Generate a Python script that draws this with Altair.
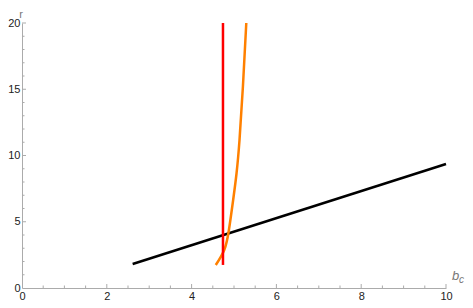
import altair as alt
import numpy as np
import pandas as pd

# ---- data ----
black_b = [2.61, 10.0]
black_r = [1.81, 9.36]

red_b = [4.74, 4.74]
red_r = [1.74, 20.0]

orange_r = [1.74, 2.87, 4.38, 6.64, 8.66, 11.17, 15.19, 20.0]
orange_b = [4.57, 4.77, 4.88, 4.98, 5.06, 5.13, 5.21, 5.29]

x_labels = [0, 2, 4, 6, 8, 10]
y_labels = [0, 5, 10, 15, 20]
x_major_ticks = [2, 4, 6, 8, 10]
x_minor_ticks = [v for v in np.arange(0.5, 10, 0.5).tolist() if v % 2 != 0]
y_major_ticks = [5, 10, 15, 20]
y_minor_ticks = [v for v in range(1, 20) if v % 5 != 0]

W, H = 424, 265
AX = "#ababab"

xscale = alt.Scale(domain=[0, 10], nice=False, zero=False)
yscale = alt.Scale(domain=[0, 20], nice=False, zero=False)

xaxis = alt.Axis(values=x_labels, title=None, grid=False, ticks=False, tickSize=0,
                 domainColor=AX, domainWidth=1, labelColor="#222",
                 labelFont="Liberation Sans", labelFontSize=11, labelPadding=2,
                 labelFlush=False, labelOverlap=False)
yaxis = alt.Axis(values=y_labels, title=None, grid=False, ticks=False, tickSize=0,
                 domainColor=AX, domainWidth=1, labelColor="#222",
                 labelFont="Liberation Sans", labelFontSize=11, labelPadding=2,
                 labelFlush=False, labelOverlap=False)

X = lambda f: alt.X(f, type="quantitative", scale=xscale, axis=xaxis)
Y = lambda f: alt.Y(f, type="quantitative", scale=yscale, axis=yaxis)

black_df = pd.DataFrame({"b": black_b, "r": black_r})
red_df = pd.DataFrame({"b": red_b, "r": red_r})
orange_df = pd.DataFrame({"b": orange_b, "r": orange_r})

black = alt.Chart(black_df).mark_line(color="#000000", strokeWidth=2.5).encode(
    x=X("b"), y=Y("r"), order="r:Q")
orange = alt.Chart(orange_df).mark_line(color="#FF8000", strokeWidth=2.5,
                                        interpolate="natural").encode(
    x=X("b"), y=Y("r"), order="r:Q")
red = alt.Chart(red_df).mark_line(color="#FF0000", strokeWidth=2.5).encode(
    x=X("b"), y=Y("r"), order="r:Q")

def xticks(vals, length):
    return alt.Chart(pd.DataFrame({"v": vals})).mark_rule(color=AX, strokeWidth=1).encode(
        x=X("v"), y=alt.value(H), y2=alt.value(H - length))

def yticks(vals, length):
    return alt.Chart(pd.DataFrame({"v": vals})).mark_rule(color=AX, strokeWidth=1).encode(
        y=Y("v"), x=alt.value(0), x2=alt.value(length))

r_title = alt.Chart(pd.DataFrame({"t": ["r"]})).mark_text(
    font="Liberation Sans", fontSize=11, color="#777", align="center",
    baseline="top").encode(text="t:N", x=alt.value(-1), y=alt.value(-14))
b_title = alt.Chart(pd.DataFrame({"t": ["b"]})).mark_text(
    font="Liberation Sans", fontSize=13, fontStyle="italic", color="#777",
    align="left", baseline="alphabetic").encode(text="t:N", x=alt.value(W + 6), y=alt.value(H - 8))
c_title = alt.Chart(pd.DataFrame({"t": ["c"]})).mark_text(
    font="Liberation Sans", fontSize=10, fontStyle="italic", color="#777",
    align="left", baseline="alphabetic").encode(text="t:N", x=alt.value(W + 13), y=alt.value(H - 5))

chart = alt.layer(
    xticks(x_major_ticks, 4), xticks(x_minor_ticks, 2.5),
    yticks(y_major_ticks, 4), yticks(y_minor_ticks, 2.5),
    black, orange, red, r_title, b_title, c_title,
).properties(
    width=W, height=H,
    autosize=alt.AutoSizeParams(type="none"),
    padding={"left": 14, "top": 15, "right": 19, "bottom": 12},
).configure_view(stroke=None)

chart.save("out.html", embed_options={"renderer": "svg", "actions": False})
